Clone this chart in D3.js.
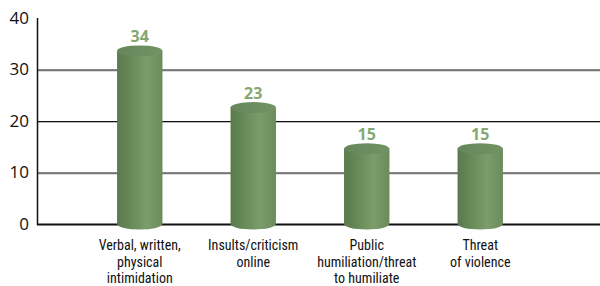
<!DOCTYPE html>
<html>
<head>
<meta charset="utf-8">
<script src="https://cdn.jsdelivr.net/npm/d3@7"></script>
<style>
  body { margin: 0; background: #fff; }
  .tick-label { font-family: "Open Sans", "DejaVu Sans", sans-serif; font-size: 17px; fill: #111; }
  .cat-label { font-family: "Liberation Sans Narrow", "Roboto Condensed", "Liberation Sans", sans-serif; font-size: 14px; fill: #111; }
  .val-label { font-family: "Open Sans", "DejaVu Sans", sans-serif; font-size: 16px; font-weight: bold; fill: #86a870; }
</style>
</head>
<body>
<script>
var width = 600, height = 286;

var categories = [
    ["Verbal, written,", "physical", "intimidation"],
    ["Insults/criticism", "online"],
    ["Public", "humiliation/threat", "to humiliate"],
    ["Threat", "of violence"]
];
var values = [34, 23, 15, 15];
var yTicks = [0, 10, 20, 30, 40];

var svg = d3.select("body").append("svg")
    .attr("width", width)
    .attr("height", height);

var y = d3.scaleLinear().domain([0, 40]).range([224, 18]);
var x = d3.scaleBand()
    .domain(d3.range(values.length))
    .range([83, 537])
    .paddingInner(0.6)
    .paddingOuter(0.3);

// gradients for the cylinders
var defs = svg.append("defs");
var bodyGrad = defs.append("linearGradient").attr("id", "body")
    .attr("x1", "0%").attr("x2", "100%").attr("y1", "0%").attr("y2", "0%");
bodyGrad.append("stop").attr("offset", "0%").attr("stop-color", "#5a7a4d");
bodyGrad.append("stop").attr("offset", "30%").attr("stop-color", "#668a58");
bodyGrad.append("stop").attr("offset", "65%").attr("stop-color", "#7b9d6b");
bodyGrad.append("stop").attr("offset", "100%").attr("stop-color", "#6a8c5c");

var topGrad = defs.append("linearGradient").attr("id", "top")
    .attr("x1", "0%").attr("x2", "100%").attr("y1", "0%").attr("y2", "0%");
topGrad.append("stop").attr("offset", "0%").attr("stop-color", "#64865a");
topGrad.append("stop").attr("offset", "100%").attr("stop-color", "#729464");

// gridlines
svg.selectAll(".grid")
    .data(yTicks.filter(function(d) { return d > 0 && d < 40; }))
    .enter().append("g")
    .each(function(d) {
        var g = d3.select(this);
        g.append("line").attr("x1", 37).attr("x2", width)
            .attr("y1", y(d) + 1.5).attr("y2", y(d) + 1.5)
            .attr("stroke", "#bbb").attr("stroke-width", 1);
        g.append("line").attr("x1", 37).attr("x2", width)
            .attr("y1", y(d) + 0.5).attr("y2", y(d) + 0.5)
            .attr("stroke", "#111").attr("stroke-width", 1);
    });

// y tick labels
svg.selectAll(".tick-label")
    .data(yTicks)
    .enter().append("text")
    .attr("class", "tick-label")
    .attr("x", 29)
    .attr("y", function(d) { return y(d); })
    .attr("dy", "0.35em")
    .attr("text-anchor", "end")
    .text(function(d) { return d; });

// y axis line
svg.append("line")
    .attr("x1", 37.5).attr("x2", 37.5)
    .attr("y1", y(40)).attr("y2", y(0) + 1)
    .attr("stroke", "#111").attr("stroke-width", 1.5);

// baseline
svg.append("line")
    .attr("x1", 37).attr("x2", width)
    .attr("y1", y(0) + 0.5).attr("y2", y(0) + 0.5)
    .attr("stroke", "#111").attr("stroke-width", 2.2);

// cylinders
var ry = 5.5;
var bars = svg.selectAll(".bar")
    .data(values)
    .enter().append("g")
    .attr("class", "bar");

bars.append("path")
    .attr("fill", "url(#body)")
    .attr("d", function(d, i) {
        var x0 = x(i), w = x.bandwidth(), rx = w / 2;
        var yt = y(d) + 2, yb = y(0);
        return "M" + x0 + "," + yt +
            "L" + x0 + "," + yb +
            "A" + rx + "," + ry + " 0 0 0 " + (x0 + w) + "," + yb +
            "L" + (x0 + w) + "," + yt + "Z";
    });

bars.append("ellipse")
    .attr("cx", function(d, i) { return x(i) + x.bandwidth() / 2; })
    .attr("cy", function(d) { return y(d) + 2; })
    .attr("rx", x.bandwidth() / 2)
    .attr("ry", ry)
    .attr("fill", "url(#top)");

// value labels
bars.append("text")
    .attr("class", "val-label")
    .attr("x", function(d, i) { return x(i) + x.bandwidth() / 2; })
    .attr("y", function(d) { return y(d) - 7; })
    .attr("text-anchor", "middle")
    .text(function(d) { return d; });

// category labels
svg.selectAll(".cat")
    .data(categories)
    .enter().append("text")
    .attr("class", "cat-label")
    .attr("text-anchor", "middle")
    .attr("x", function(d, i) { return x(i) + x.bandwidth() / 2; })
    .attr("y", 250)
    .selectAll("tspan")
    .data(function(d) { return d; })
    .enter().append("tspan")
    .attr("x", function() { return d3.select(this.parentNode).attr("x"); })
    .attr("dy", function(d, j) { return j === 0 ? 0 : 16.5; })
    .text(function(d) { return d; });
</script>
</body>
</html>
